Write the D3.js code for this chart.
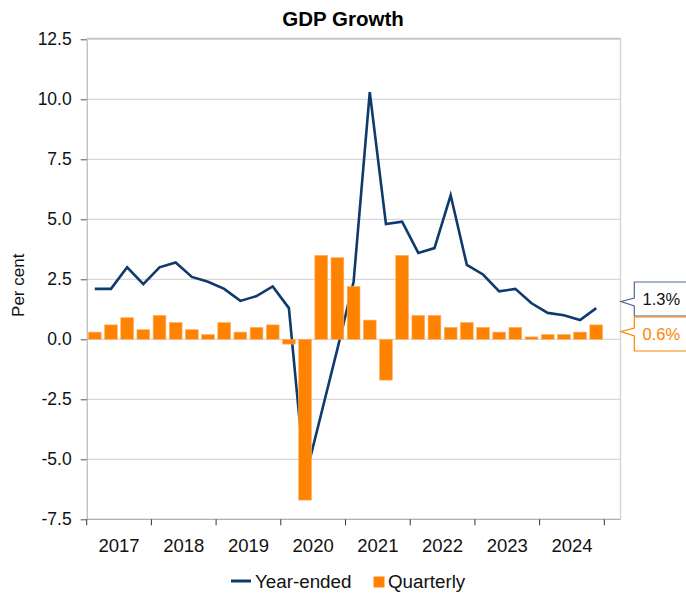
<!DOCTYPE html>
<html>
<head>
<meta charset="utf-8">
<script src="https://cdn.jsdelivr.net/npm/d3@7/dist/d3.min.js"></script>
<style>
  html, body { margin: 0; padding: 0; background: #fff; }
  svg { display: block; font-family: "Liberation Sans", Arial, Helvetica, sans-serif; }
</style>
</head>
<body>
<svg id="chart" width="686" height="594"></svg>
<script>
// Quarterly observations, 2017 Q1 to 2024 Q4
const quarters = [
  "2017Q1","2017Q2","2017Q3","2017Q4",
  "2018Q1","2018Q2","2018Q3","2018Q4",
  "2019Q1","2019Q2","2019Q3","2019Q4",
  "2020Q1","2020Q2","2020Q3","2020Q4",
  "2021Q1","2021Q2","2021Q3","2021Q4",
  "2022Q1","2022Q2","2022Q3","2022Q4",
  "2023Q1","2023Q2","2023Q3","2023Q4",
  "2024Q1","2024Q2","2024Q3","2024Q4"
];
const years = ["2017","2018","2019","2020","2021","2022","2023","2024"];

// Year-ended growth (per cent)
const yearEnded = [2.1, 2.1, 3.0, 2.3, 3.0, 3.2, 2.6, 2.4,
                   2.1, 1.6, 1.8, 2.2, 1.3, -5.8, -3.1, -0.4,
                   2.4, 10.3, 4.8, 4.9, 3.6, 3.8, 6.0, 3.1,
                   2.7, 2.0, 2.1, 1.5, 1.1, 1.0, 0.8, 1.3];
// Quarterly growth (per cent)
const quarterly = [0.3, 0.6, 0.9, 0.4, 1.0, 0.7, 0.4, 0.2,
                   0.7, 0.3, 0.5, 0.6, -0.2, -6.7, 3.5, 3.4,
                   2.2, 0.8, -1.7, 3.5, 1.0, 1.0, 0.5, 0.7,
                   0.5, 0.3, 0.5, 0.1, 0.2, 0.2, 0.3, 0.6];

const yTicks = [12.5, 10.0, 7.5, 5.0, 2.5, 0.0, -2.5, -5.0, -7.5];

const navy = "#0e3a6c";
const orange = "#ff8300";

// Plain hyphen for negative numbers
const locale = d3.formatLocale({ decimal: ".", thousands: ",", grouping: [3], currency: ["", ""], minus: "-" });
const fmt1 = locale.format(".1f");

const svg = d3.select("#chart");
const plot = { left: 86.7, right: 620.5, top: 39.3, bottom: 519.3 };
const slot = (plot.right - plot.left) / (quarters.length + 1);

// One band per quarter; one empty slot is left at the right edge
const x = d3.scaleBand()
  .domain(quarters)
  .range([plot.left, plot.left + slot * quarters.length])
  .paddingInner(0.21)
  .paddingOuter(0.105);
const xCenter = q => x(q) + x.bandwidth() / 2;

const y = d3.scaleLinear().domain([-7.5, 12.5]).range([plot.bottom, plot.top]);

// Horizontal gridlines
svg.append("g")
  .selectAll("line")
  .data(yTicks)
  .join("line")
  .attr("x1", plot.left).attr("x2", plot.right)
  .attr("y1", d => y(d)).attr("y2", d => y(d))
  .attr("stroke", "#cfcfcf").attr("stroke-width", 1);

// Plot frame (right edge)
svg.append("line")
  .attr("x1", plot.right).attr("x2", plot.right)
  .attr("y1", plot.top - 1).attr("y2", plot.bottom)
  .attr("stroke", "#d6d6d6").attr("stroke-width", 1.5);

// Year-ended line (drawn beneath the bars)
const line = d3.line()
  .x((d, i) => xCenter(quarters[i]))
  .y(d => y(d));
svg.append("path")
  .datum(yearEnded)
  .attr("d", line)
  .attr("fill", "none")
  .attr("stroke", navy)
  .attr("stroke-width", 2.6)
  .attr("stroke-linejoin", "miter");

// Quarterly bars
svg.append("g")
  .selectAll("rect")
  .data(quarterly)
  .join("rect")
  .attr("x", (d, i) => x(quarters[i]))
  .attr("width", x.bandwidth())
  .attr("y", d => y(Math.max(0, d)))
  .attr("height", d => Math.abs(y(d) - y(0)))
  .attr("fill", orange)
  .attr("stroke", "#ffb266")
  .attr("stroke-width", 0.6);

// Y axis
const yAxis = svg.append("g")
  .attr("transform", `translate(${plot.left},0)`)
  .call(d3.axisLeft(y).tickValues(yTicks).tickFormat(fmt1).tickSize(6).tickSizeOuter(0).tickPadding(9));
yAxis.select(".domain").attr("stroke", "#a8a8a8");
yAxis.selectAll(".tick line").attr("stroke", "#555");
yAxis.selectAll("text").attr("font-size", 17.5).attr("fill", "#111")
  .attr("font-family", "Liberation Sans, Arial, sans-serif");

// X axis: ticks at year boundaries, labels centred within each year
const yearEdges = d3.range(years.length + 1).map(k => plot.left + k * 4 * slot);
const xAxis = svg.append("g");
xAxis.append("line")
  .attr("x1", plot.left).attr("x2", plot.right)
  .attr("y1", plot.bottom).attr("y2", plot.bottom)
  .attr("stroke", "#a8a8a8");
xAxis.selectAll("line.tk")
  .data(yearEdges)
  .join("line")
  .attr("class", "tk")
  .attr("x1", d => d).attr("x2", d => d)
  .attr("y1", plot.bottom).attr("y2", plot.bottom + 6)
  .attr("stroke", "#333");
xAxis.selectAll("text")
  .data(years)
  .join("text")
  .attr("x", (d, i) => (xCenter(quarters[i * 4 + 1]) + xCenter(quarters[i * 4 + 2])) / 2)
  .attr("y", plot.bottom + 33)
  .attr("text-anchor", "middle")
  .attr("font-size", 18.5)
  .attr("fill", "#111")
  .text(d => d);

// Top frame
svg.append("line")
  .attr("x1", plot.left).attr("x2", plot.right)
  .attr("y1", plot.top - 1).attr("y2", plot.top - 1)
  .attr("stroke", "#c4c4c4").attr("stroke-width", 1.2);

// Title
svg.append("text")
  .attr("x", 343).attr("y", 26)
  .attr("text-anchor", "middle")
  .attr("font-size", 20.5).attr("font-weight", "bold").attr("fill", "#000")
  .text("GDP Growth");

// Axis title
svg.append("text")
  .attr("transform", `translate(24,${(plot.top + plot.bottom) / 2 + 6}) rotate(-90)`)
  .attr("text-anchor", "middle")
  .attr("font-size", 17).attr("fill", "#111")
  .text("Per cent");

// Latest-value callouts on the right edge
const last = quarters.length - 1;
const callouts = [
  { value: yearEnded[last], text: fmt1(yearEnded[last]) + "%", stroke: "#50688f", fill: "#111" },
  { value: quarterly[last], text: fmt1(quarterly[last]) + "%", stroke: orange, fill: orange }
];
const boxH = 34, gap = 1;
const mid = (y(callouts[0].value) + y(callouts[1].value)) / 2;
callouts[0].cy = Math.min(y(callouts[0].value), mid - (boxH + gap) / 2);
callouts[1].cy = Math.max(y(callouts[1].value), mid + (boxH + gap) / 2);
const bx = 634.3, tipX = 621;
callouts.forEach(c => {
  const top = c.cy - boxH / 2, bot = c.cy + boxH / 2;
  const tipY = c.cy + (y(c.value) > c.cy ? 2.5 : -2.5);
  const path = d3.path();
  path.moveTo(700, top);
  path.lineTo(bx, top);
  path.lineTo(bx, tipY - 3.5);
  path.lineTo(tipX, tipY);
  path.lineTo(bx, tipY + 4.5);
  path.lineTo(bx, bot);
  path.lineTo(700, bot);
  svg.append("path")
    .attr("d", path.toString())
    .attr("fill", "#fff")
    .attr("stroke", c.stroke)
    .attr("stroke-width", 1.2);
  svg.append("text")
    .attr("x", 642.5).attr("y", c.cy + 6)
    .attr("font-size", 16.5).attr("fill", c.fill)
    .text(c.text);
});

// Legend
const lg = svg.append("g");
lg.append("line")
  .attr("x1", 231).attr("x2", 251).attr("y1", 581).attr("y2", 581)
  .attr("stroke", navy).attr("stroke-width", 3);
lg.append("text").attr("x", 255).attr("y", 588)
  .attr("font-size", 18.8).attr("fill", "#111").text("Year-ended");
lg.append("rect").attr("x", 373.5).attr("y", 576.5).attr("width", 11).attr("height", 11)
  .attr("fill", orange);
lg.append("text").attr("x", 388).attr("y", 588)
  .attr("font-size", 18.8).attr("fill", "#111").text("Quarterly");
</script>
</body>
</html>
